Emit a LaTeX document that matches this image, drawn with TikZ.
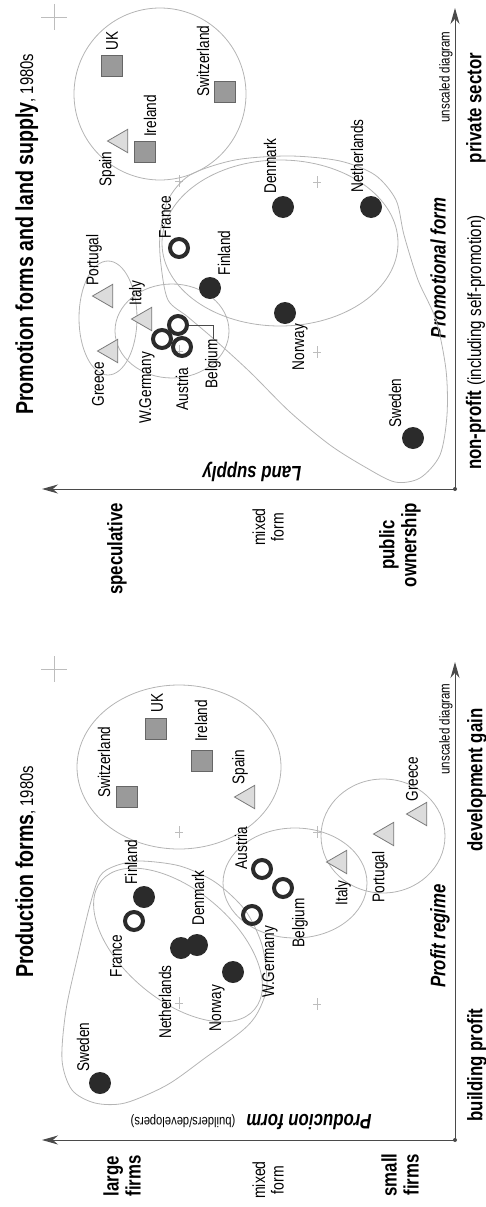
\documentclass[tikz,border=0pt]{standalone}
\usepackage{fontspec}
\setmainfont{Liberation Sans}[FakeStretch=0.8]
\usetikzlibrary{shapes.geometric, arrows.meta}

\definecolor{dotc}{HTML}{2B2B2B}
\definecolor{sqfill}{HTML}{9A9A9A}
\definecolor{sqline}{HTML}{666666}
\definecolor{trifill}{HTML}{DCDCDC}
\definecolor{triline}{HTML}{7A7A7A}
\definecolor{grpc}{HTML}{B4B4B4}
\definecolor{tickc}{HTML}{BDBDBD}
\definecolor{axisc}{HTML}{4A4A4A}

\begin{document}
\begin{tikzpicture}[x=1pt, y=-1pt]
	\tikzstyle{dot}=[circle, fill=dotc, minimum size=22pt, inner sep=0]
	\tikzstyle{ring}=[circle, draw=dotc, line width=4pt, minimum size=18pt, inner sep=0]
	\tikzstyle{sq}=[rectangle, draw=sqline, fill=sqfill, line width=1pt, minimum size=21pt, inner sep=0]
	\tikzstyle{tri}=[regular polygon, regular polygon sides=3, shape border rotate=90, draw=triline, fill=trifill, line width=0.8pt, minimum size=27pt, inner sep=0]
	\tikzstyle{group}=[draw=grpc, line width=0.8pt]
	\tikzstyle{tick}=[draw=tickc, line width=0.8pt]
	\tikzstyle{axis}=[draw=axisc, line width=1pt, -{Stealth[length=16pt, width=9pt]}]
	\tikzstyle{lbl}=[rotate=90, inner sep=0, font=\fontsize{17}{17}\selectfont]
	\tikzstyle{end}=[rotate=90, inner sep=0, align=center, font=\fontsize{21}{22}\selectfont\bfseries]
	\tikzstyle{mid}=[rotate=90, inner sep=0, align=center, font=\fontsize{17.5}{18.5}\selectfont]
	\tikzstyle{axtitle}=[inner sep=0, font=\fontsize{21}{21}\selectfont\bfseries\itshape]
	\tikzstyle{note}=[rotate=90, inner sep=0, font=\fontsize{14.4}{14.4}\selectfont]

	\useasboundingbox (0,0) rectangle (486,1207);

	% grid ticks
	\foreach \x/\y in {179/181, 317/182, 179/351, 317/352, 179/832, 317/832, 179/1003, 317/1004}
		\draw[tick] (\x,\y-6) -- (\x,\y+6) (\x-4,\y) -- (\x+4,\y);
	\foreach \x/\y in {54/17, 54/669}
		\draw[tick] (\x,\y-13) -- (\x,\y+13) (\x-13,\y) -- (\x+13,\y);

	%%%%% Promotion forms and land supply
	\node[rotate=90, anchor=base west, inner sep=0] (titleR) at (33,415)
		{\fontsize{24.5}{24.5}\selectfont\bfseries Promotion forms and land supply\fontsize{18.5}{18.5}\selectfont\mdseries, 1980s};

	\coordinate (oR) at (455,489);
	\coordinate (yR) at (42,489);
	\coordinate (xR) at (455,8);
	\draw[axis] (oR) -- (yR);
	\draw[axis] (oR) -- (xR);
	\fill[axisc] (oR) circle [radius=2pt];

	\node[axtitle, rotate=180] (landR) at (252,472) {Land supply};
	\node[axtitle, rotate=90] (promoR) at (438,268) {Promotional form};
	\node[note] (unscR) at (446,77) {unscaled diagram};
	\node[end] (specR) at (117,549) {speculative};
	\node[mid] (mixR) at (268,527) {mixed\\form};
	\node[end] (pubR) at (400,545) {public\\ownership};
	\node[end] (privR) at (476,108) {private sector};
	\node[rotate=90, anchor=base west, inner sep=0] (nonR) at (481,470)
		{\fontsize{21}{21}\selectfont\bfseries non-profit \fontsize{19}{19}\selectfont\mdseries(including self-promotion)};

	% groups
	\draw[group] (160,94) circle [radius=86pt];
	\draw[group] (108,318) ellipse [x radius=29pt, y radius=57pt];
	\draw[group] (172,331) ellipse [x radius=57pt, y radius=47pt];
	\draw[group] (280,243) ellipse [x radius=118pt, y radius=83pt];
	\draw[group] plot[smooth cycle] coordinates {(168,300) (161,265) (160,235) (168,200) (190,175) (235,160) (290,156)
		(340,161) (375,175) (396,200) (404,235) (418,280) (436,320) (446,370) (447,415) (440,455) (420,478)
		(395,482) (365,467) (330,445) (290,412) (250,372) (215,340) (188,317)};

	% countries
	\node[sq] (sUK) at (112,66) {};
	\node[sq] (sIreland) at (145,152) {};
	\node[sq] (sSwitz) at (225,92) {};
	\node[tri] (sSpain) at (121,141) {};
	\node[tri] (sPortugal) at (106,296) {};
	\node[tri] (sGreece) at (111,351) {};
	\node[tri] (sItaly) at (145,319) {};
	\node[ring] (sFrance) at (179,248) {};
	\node[ring] (sBelgium) at (178,325) {};
	\node[ring] (sWGermany) at (162,339) {};
	\node[ring] (sAustria) at (182,347) {};
	\node[dot] (sFinland) at (210,288) {};
	\node[dot] (sDenmark) at (283,207) {};
	\node[dot] (sNetherl) at (371,207) {};
	\node[dot] (sNorway) at (285,313) {};
	\node[dot] (sSweden) at (413,438) {};

	\node[lbl] (lUK) at (112,41) {UK};
	\node[lbl] (lIreland) at (150,116) {Ireland};
	\node[lbl] (lSwitz) at (203,61) {Switzerland};
	\node[lbl] (lSpain) at (107,169) {Spain};
	\node[lbl] (lPortugal) at (94,260) {Portugal};
	\node[lbl] (lGreece) at (98,384) {Greece};
	\node[lbl] (lItaly) at (137,293) {Italy};
	\node[lbl] (lFrance) at (165,217) {France};
	\node[lbl] (lBelgium) at (213,364) {Belgium};
	\node[lbl] (lWGermany) at (147,388) {W.Germany};
	\node[lbl] (lAustria) at (182,389) {Austria};
	\node[lbl] (lFinland) at (224,253) {Finland};
	\node[lbl] (lDenmark) at (270,166) {Denmark};
	\node[lbl] (lNetherl) at (357,156) {Netherlands};
	\node[lbl] (lNorway) at (300,347) {Norway};
	\node[lbl] (lSweden) at (395,403) {Sweden};

	\draw[axisc, line width=0.6pt] (sBelgium.east) -| (lBelgium.east);

	%%%%% Production forms
	\node[rotate=90, anchor=base west, inner sep=0] (titleL) at (33,978)
		{\fontsize{24.5}{24.5}\selectfont\bfseries Production forms\fontsize{18.5}{18.5}\selectfont\mdseries, 1980s};

	\coordinate (oL) at (455,1140);
	\coordinate (yL) at (42,1140);
	\coordinate (xL) at (455,662);
	\draw[axis] (oL) -- (yL);
	\draw[axis] (oL) -- (xL);
	\fill[axisc] (oL) circle [radius=2pt];

	\node[axtitle, rotate=180] (prodL) at (309,1122) {Producion form};
	\node[rotate=180, inner sep=0, font=\fontsize{14}{14}\selectfont] (buildL) at (183,1121) {(builders/developers)};
	\node[axtitle, rotate=90] (profL) at (440,936) {Profit regime};
	\node[note] (unscL) at (446,729) {unscaled diagram};
	\node[end] (largeL) at (122,1176) {large\\firms};
	\node[mid] (mixL) at (268,1180) {mixed\\form};
	\node[end] (smallL) at (400,1175) {small\\firms};
	\node[end] (bprofL) at (477,1065) {building profit};
	\node[end] (devL) at (477,780) {development gain};

	% groups
	\draw[group] (179,767) ellipse [x radius=102pt, y radius=82pt];
	\draw[group] (295,883) ellipse [x radius=72pt, y radius=55pt];
	\draw[group] (383,836) ellipse [x radius=62pt, y radius=57pt];
	\draw[group, rotate around={-40:(178,945)}] (178,945) ellipse [x radius=100pt, y radius=55pt];
	\draw[group] plot[smooth cycle] coordinates {(100,876) (115,866) (140,861) (180,866) (215,882) (245,910)
		(262,945) (267,985) (258,1012) (243,1030) (205,1058) (167,1085) (125,1103) (95,1103) (72,1090)
		(62,1060) (66,1010) (78,955) (90,905)};

	% countries
	\node[sq] (pUK) at (156,729) {};
	\node[sq] (pIreland) at (202,761) {};
	\node[sq] (pSwitz) at (127,797) {};
	\node[tri] (pSpain) at (248,797) {};
	\node[tri] (pItaly) at (340,862) {};
	\node[tri] (pPortugal) at (387,834) {};
	\node[tri] (pGreece) at (420,814) {};
	\node[ring] (pFrance) at (134,921) {};
	\node[ring] (pAustria) at (262,869) {};
	\node[ring] (pBelgium) at (283,888) {};
	\node[ring] (pWGermany) at (252,915) {};
	\node[dot] (pFinland) at (144,897) {};
	\node[dot] (pNetherl) at (181,948) {};
	\node[dot] (pDenmark) at (197,945) {};
	\node[dot] (pNorway) at (233,972) {};
	\node[dot] (pSweden) at (100,1083) {};

	\node[lbl] (mUK) at (157,703) {UK};
	\node[lbl] (mIreland) at (201,721) {Ireland};
	\node[lbl] (mSwitz) at (104,762) {Switzerland};
	\node[lbl] (mSpain) at (240,767) {Spain};
	\node[lbl] (mItaly) at (343,893) {Italy};
	\node[lbl] (mPortugal) at (380,877) {Portugal};
	\node[lbl] (mGreece) at (412,779) {Greece};
	\node[lbl] (mFrance) at (116,956) {France};
	\node[lbl] (mAustria) at (241,848) {Austria};
	\node[lbl] (mBelgium) at (300,923) {Belgium};
	\node[lbl] (mWGermany) at (270,962) {W.Germany};
	\node[lbl] (mFinland) at (131,862) {Finland};
	\node[lbl] (mDenmark) at (198,898) {Denmark};
	\node[lbl] (mNetherl) at (165,1002) {Netherlands};
	\node[lbl] (mNorway) at (217,1008) {Norway};
	\node[lbl] (mSweden) at (83,1047) {Sweden};
\end{tikzpicture}
\end{document}
